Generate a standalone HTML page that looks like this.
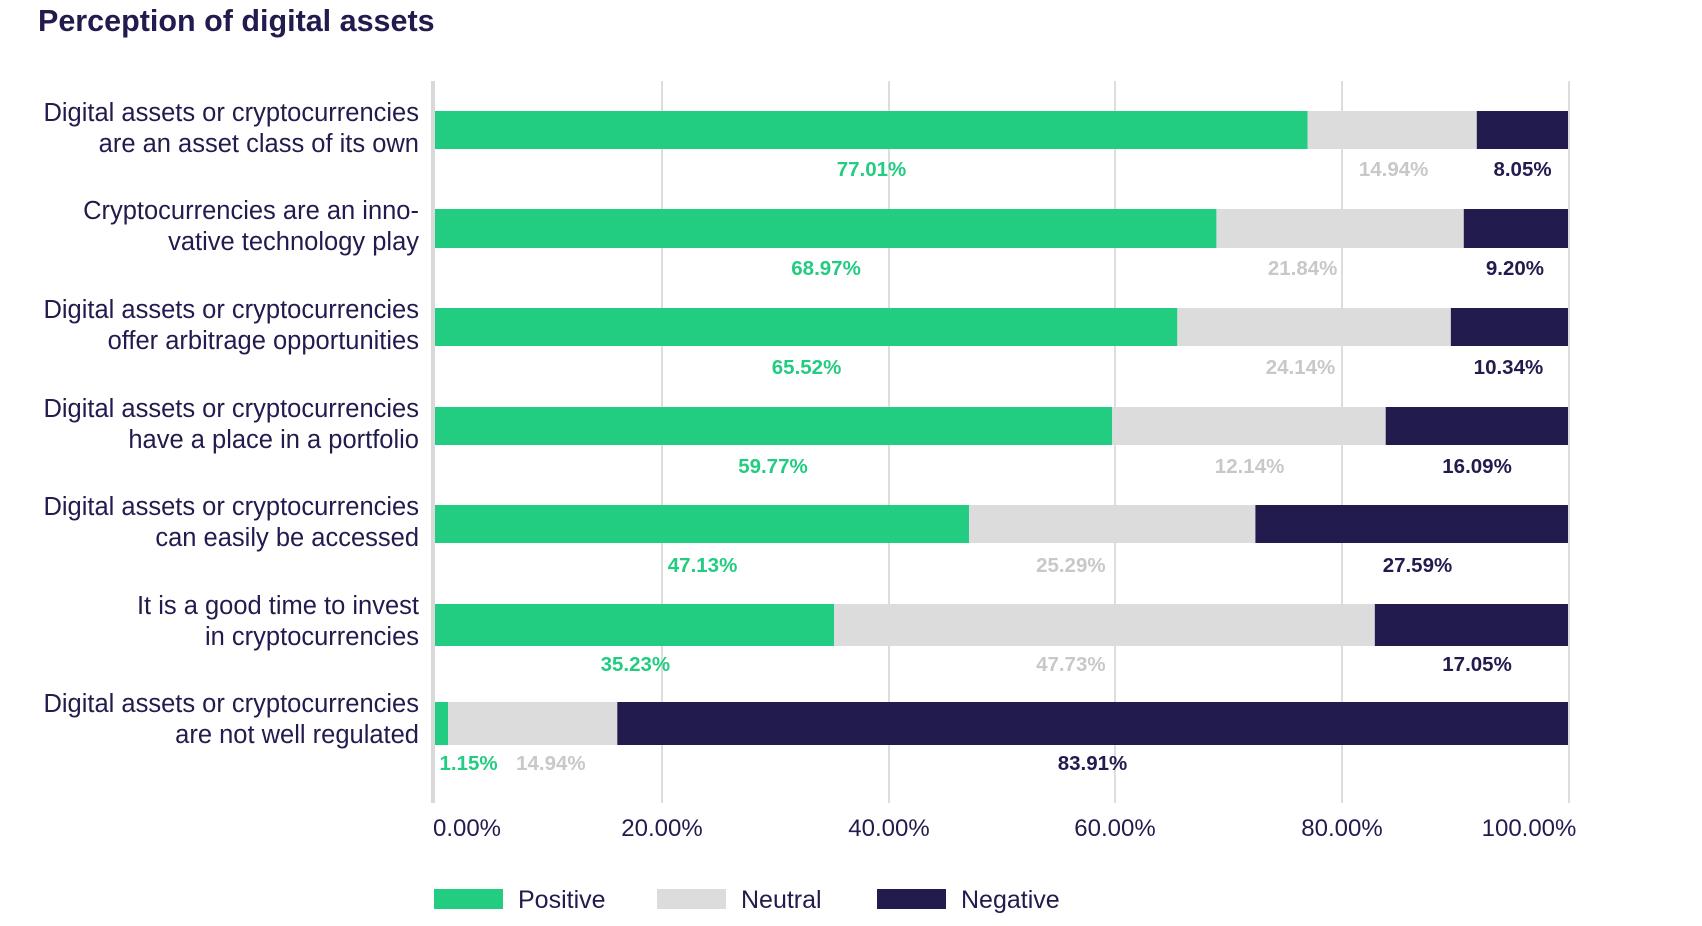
<!DOCTYPE html>
<html><head><meta charset="utf-8"><style>
html,body{margin:0;padding:0;background:#fff;}
svg{display:block;font-family:"Liberation Sans",sans-serif;}
</style></head><body>
<svg width="1702" height="926" viewBox="0 0 1702 926" xmlns="http://www.w3.org/2000/svg">
<text x="38" y="31" font-size="30.5" font-weight="bold" fill="#211b4e">Perception of digital assets</text>
<g stroke="#dddddd" stroke-width="2">
<line x1="662" y1="81" x2="662" y2="803"/>
<line x1="889" y1="81" x2="889" y2="803"/>
<line x1="1115" y1="81" x2="1115" y2="803"/>
<line x1="1342" y1="81" x2="1342" y2="803"/>
<line x1="1569" y1="81" x2="1569" y2="803"/>
</g>
<rect x="431" y="81" width="4" height="722" fill="#d9d9d9"/>
<g id="bars"></g>
<g font-size="25.5" fill="#211b4e" text-anchor="end">
<text x="419" y="121">Digital assets or cryptocurrencies</text><text x="419" y="152">are an asset class of its own</text>
<text x="419" y="219">Cryptocurrencies are an inno-</text><text x="419" y="250">vative technology play</text>
<text x="419" y="318">Digital assets or cryptocurrencies</text><text x="419" y="349">offer arbitrage opportunities</text>
<text x="419" y="417">Digital assets or cryptocurrencies</text><text x="419" y="448">have a place in a portfolio</text>
<text x="419" y="515">Digital assets or cryptocurrencies</text><text x="419" y="546">can easily be accessed</text>
<text x="419" y="614">It is a good time to invest</text><text x="419" y="645">in cryptocurrencies</text>
<text x="419" y="712">Digital assets or cryptocurrencies</text><text x="419" y="743">are not well regulated</text>
</g>
<g font-size="24" fill="#211b4e" text-anchor="middle">
<text x="467" y="836">0.00%</text><text x="662" y="836">20.00%</text><text x="889" y="836">40.00%</text>
<text x="1115" y="836">60.00%</text><text x="1342" y="836">80.00%</text><text x="1529" y="836">100.00%</text>
</g>
<rect x="434" y="889" width="69" height="20" fill="#22cc80"/><text x="518" y="908" font-size="25" fill="#211b4e">Positive</text>
<rect x="657" y="889" width="69" height="20" fill="#dcdcdc"/><text x="741" y="908" font-size="25" fill="#211b4e">Neutral</text>
<rect x="877" y="889" width="69" height="20" fill="#211b4e"/><text x="961" y="908" font-size="25" fill="#211b4e">Negative</text>
</svg>
<script>
var d=[[77.01,14.94,8.05],[68.97,21.84,9.20],[65.52,24.14,10.34],[59.77,12.14,16.09],[47.13,25.29,27.59],[35.23,47.73,17.05],[1.15,14.94,83.91]];
var lx=[[802,1284,1403],[760,1200,1396],[742,1198,1390],[711,1151,1361],[646,986,1306],[584,986,1361],[430,506,1006]];
var tops=[111,209,308,407,505,604,702],bots=[149,248,346,445,543,646,745],ly=[169,268,367,466,565,664,763];
var c=["#22cc80","#dcdcdc","#211b4e"],tc=["#22cc80","#c8c8c8","#211b4e"];
var s="",x0=435,W=1133;
d.forEach(function(r,i){
var a=x0+r[0]/100*W,b=x0+W-r[2]/100*W,h=bots[i]-tops[i];
s+='<rect x="'+x0+'" y="'+tops[i]+'" width="'+(a-x0)+'" height="'+h+'" fill="'+c[0]+'"/>';
s+='<rect x="'+a+'" y="'+tops[i]+'" width="'+(b-a)+'" height="'+h+'" fill="'+c[1]+'"/>';
s+='<rect x="'+b+'" y="'+tops[i]+'" width="'+(x0+W-b)+'" height="'+h+'" fill="'+c[2]+'"/>';
r.forEach(function(v,j){var cx=435+(lx[i][j]-399)*1.0832;
s+='<text x="'+cx+'" y="'+(ly[i]+7)+'" font-size="20.5" font-weight="bold" text-anchor="middle" fill="'+tc[j]+'">'+v.toFixed(2)+'%</text>';});});
document.getElementById("bars").innerHTML=s;
</script>
</body></html>
